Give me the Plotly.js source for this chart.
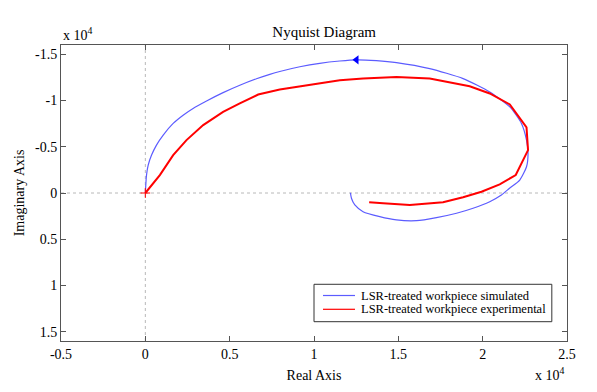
<!DOCTYPE html>
<html>
<head>
<meta charset="utf-8">
<script src="https://cdn.plot.ly/plotly-3.0.1.min.js"></script>
<style>html,body{margin:0;padding:0;background:#fff;}#chart{width:597px;height:392px;}</style>
</head>
<body>
<div id="chart"></div>
<script>
// Values in units of 10^4
const simReal = [0, 0.007, 0.017, 0.037, 0.066, 0.106, 0.165, 0.224, 0.283, 0.363, 0.461, 0.560, 0.659, 0.738, 0.797, 0.916, 1.034, 1.153, 1.252, 1.370, 1.489, 1.686, 1.884, 2.042, 2.161, 2.230, 2.260, 2.269, 2.260, 2.220, 2.161, 2.111, 2.042, 1.943, 1.845, 1.726, 1.608, 1.489, 1.390, 1.291, 1.242, 1.222, 1.216];
const simImag = [0, -0.194, -0.302, -0.410, -0.518, -0.626, -0.752, -0.841, -0.914, -0.995, -1.085, -1.165, -1.235, -1.283, -1.314, -1.365, -1.402, -1.427, -1.440, -1.431, -1.410, -1.345, -1.237, -1.093, -0.931, -0.752, -0.572, -0.428, -0.284, -0.140, -0.054, 0.022, 0.094, 0.165, 0.219, 0.266, 0.299, 0.291, 0.256, 0.202, 0.129, 0.057, -0.003];
const expReal = [0, 0.086, 0.165, 0.244, 0.343, 0.461, 0.560, 0.669, 0.797, 0.956, 1.153, 1.291, 1.489, 1.686, 1.923, 2.042, 2.161, 2.260, 2.269, 2.196, 2.101, 1.993, 1.884, 1.765, 1.568, 1.410, 1.327];
const expImag = [0, -0.194, -0.410, -0.572, -0.734, -0.877, -0.968, -1.065, -1.119, -1.165, -1.219, -1.237, -1.255, -1.237, -1.154, -1.076, -0.957, -0.709, -0.464, -0.194, -0.094, -0.014, 0.046, 0.100, 0.129, 0.111, 0.100];
const arrowReal = [1.252];
const arrowImag = [-1.440];
const originReal = [0];
const originImag = [0];
const seriesNames = ['LSR-treated workpiece simulated', 'LSR-treated workpiece experimental'];
const seriesColors = ['#5c5cff', '#ff0000'];
const xTicks = [-0.5, 0, 0.5, 1, 1.5, 2, 2.5];
const yTicks = [-1.5, -1, -0.5, 0, 0.5, 1, 1.5];

const FONT = 'Liberation Serif, Times New Roman, serif';

const traces = [
  {x: simReal, y: simImag, mode: 'lines', name: seriesNames[0], line: {color: seriesColors[0], width: 1.2, shape: 'spline', smoothing: 0.6}},
  {x: expReal, y: expImag, mode: 'lines', name: seriesNames[1], line: {color: seriesColors[1], width: 2}},
  {x: arrowReal, y: arrowImag, mode: 'markers', showlegend: false, marker: {symbol: 'triangle-left', size: 8, color: '#0000ff'}},
  {x: originReal, y: originImag, mode: 'markers', showlegend: false, marker: {symbol: 'cross-thin-open', size: 7, color: '#ff0000', line: {color: '#ff0000', width: 1}}}
];

const axisCommon = {
  showline: true, mirror: 'ticks', linecolor: '#555', linewidth: 1,
  ticks: 'inside', ticklen: 5, tickcolor: '#555', tickwidth: 1,
  showgrid: false, zeroline: false,
  tickfont: {family: FONT, size: 14, color: '#000'}
};

// Legend box (drawn manually to match compact MATLAB legend)
const legBox = {x0: 0.5, x1: 0.970, y0: 0.0652, y1: 0.1916};
const legRows = [0.1537, 0.1071];
const legShapes = [
  {type: 'rect', xref: 'paper', yref: 'paper', x0: legBox.x0, x1: legBox.x1, y0: legBox.y0, y1: legBox.y1, line: {color: '#333', width: 1}, fillcolor: '#fff', layer: 'above'}
];
const legAnn = [];
seriesNames.forEach((n, i) => {
  legShapes.push({type: 'line', xref: 'paper', yref: 'paper', x0: 0.5178, x1: 0.581, y0: legRows[i], y1: legRows[i], line: {color: seriesColors[i], width: 1.2}, layer: 'above'});
  legAnn.push({text: n, xref: 'paper', yref: 'paper', x: 0.589, y: legRows[i], xanchor: 'left', yanchor: 'middle', showarrow: false, font: {family: FONT, size: 12.5, color: '#000'}});
});

const layout = {
  width: 597, height: 392,
  margin: {l: 61, r: 30, t: 45, b: 51},
  paper_bgcolor: '#fff', plot_bgcolor: '#fff',
  font: {family: FONT, color: '#000'},
  showlegend: false,
  title: {text: 'Nyquist Diagram', font: {family: FONT, size: 15, color: '#000'}, x: 0.543, xanchor: 'center', y: 0.918, yanchor: 'middle'},
  xaxis: Object.assign({}, axisCommon, {range: [-0.5, 2.5], tickvals: xTicks, ticktext: xTicks.map(String),
    title: {text: 'Real Axis', font: {family: FONT, size: 14, color: '#000'}, standoff: 9}}),
  yaxis: Object.assign({}, axisCommon, {range: [1.6, -1.6], tickvals: yTicks, ticktext: yTicks.map(String),
    title: {text: 'Imaginary Axis', font: {family: FONT, size: 14, color: '#000'}, standoff: 7}}),
  shapes: [
    {type: 'line', xref: 'x', yref: 'paper', x0: 0, x1: 0, y0: 0, y1: 1, line: {color: '#b8b8b8', width: 1, dash: 'dot'}, layer: 'below'},
    {type: 'line', xref: 'paper', yref: 'y', x0: 0, x1: 1, y0: 0, y1: 0, line: {color: '#b8b8b8', width: 1, dash: 'dot'}, layer: 'below'}
  ].concat(legShapes),
  annotations: [
    {text: 'x 10<sup>4</sup>', xref: 'paper', yref: 'paper', x: 0, y: 1, xanchor: 'left', yanchor: 'bottom', yshift: 0, showarrow: false, font: {family: FONT, size: 14, color: '#000'}},
    {text: 'x 10<sup>4</sup>', xref: 'paper', yref: 'paper', x: 1, y: 0, xanchor: 'right', yanchor: 'top', yshift: -22, showarrow: false, font: {family: FONT, size: 14, color: '#000'}}
  ].concat(legAnn)
};

Plotly.newPlot('chart', traces, layout, {displayModeBar: false, staticPlot: true});
</script>
</body>
</html>
